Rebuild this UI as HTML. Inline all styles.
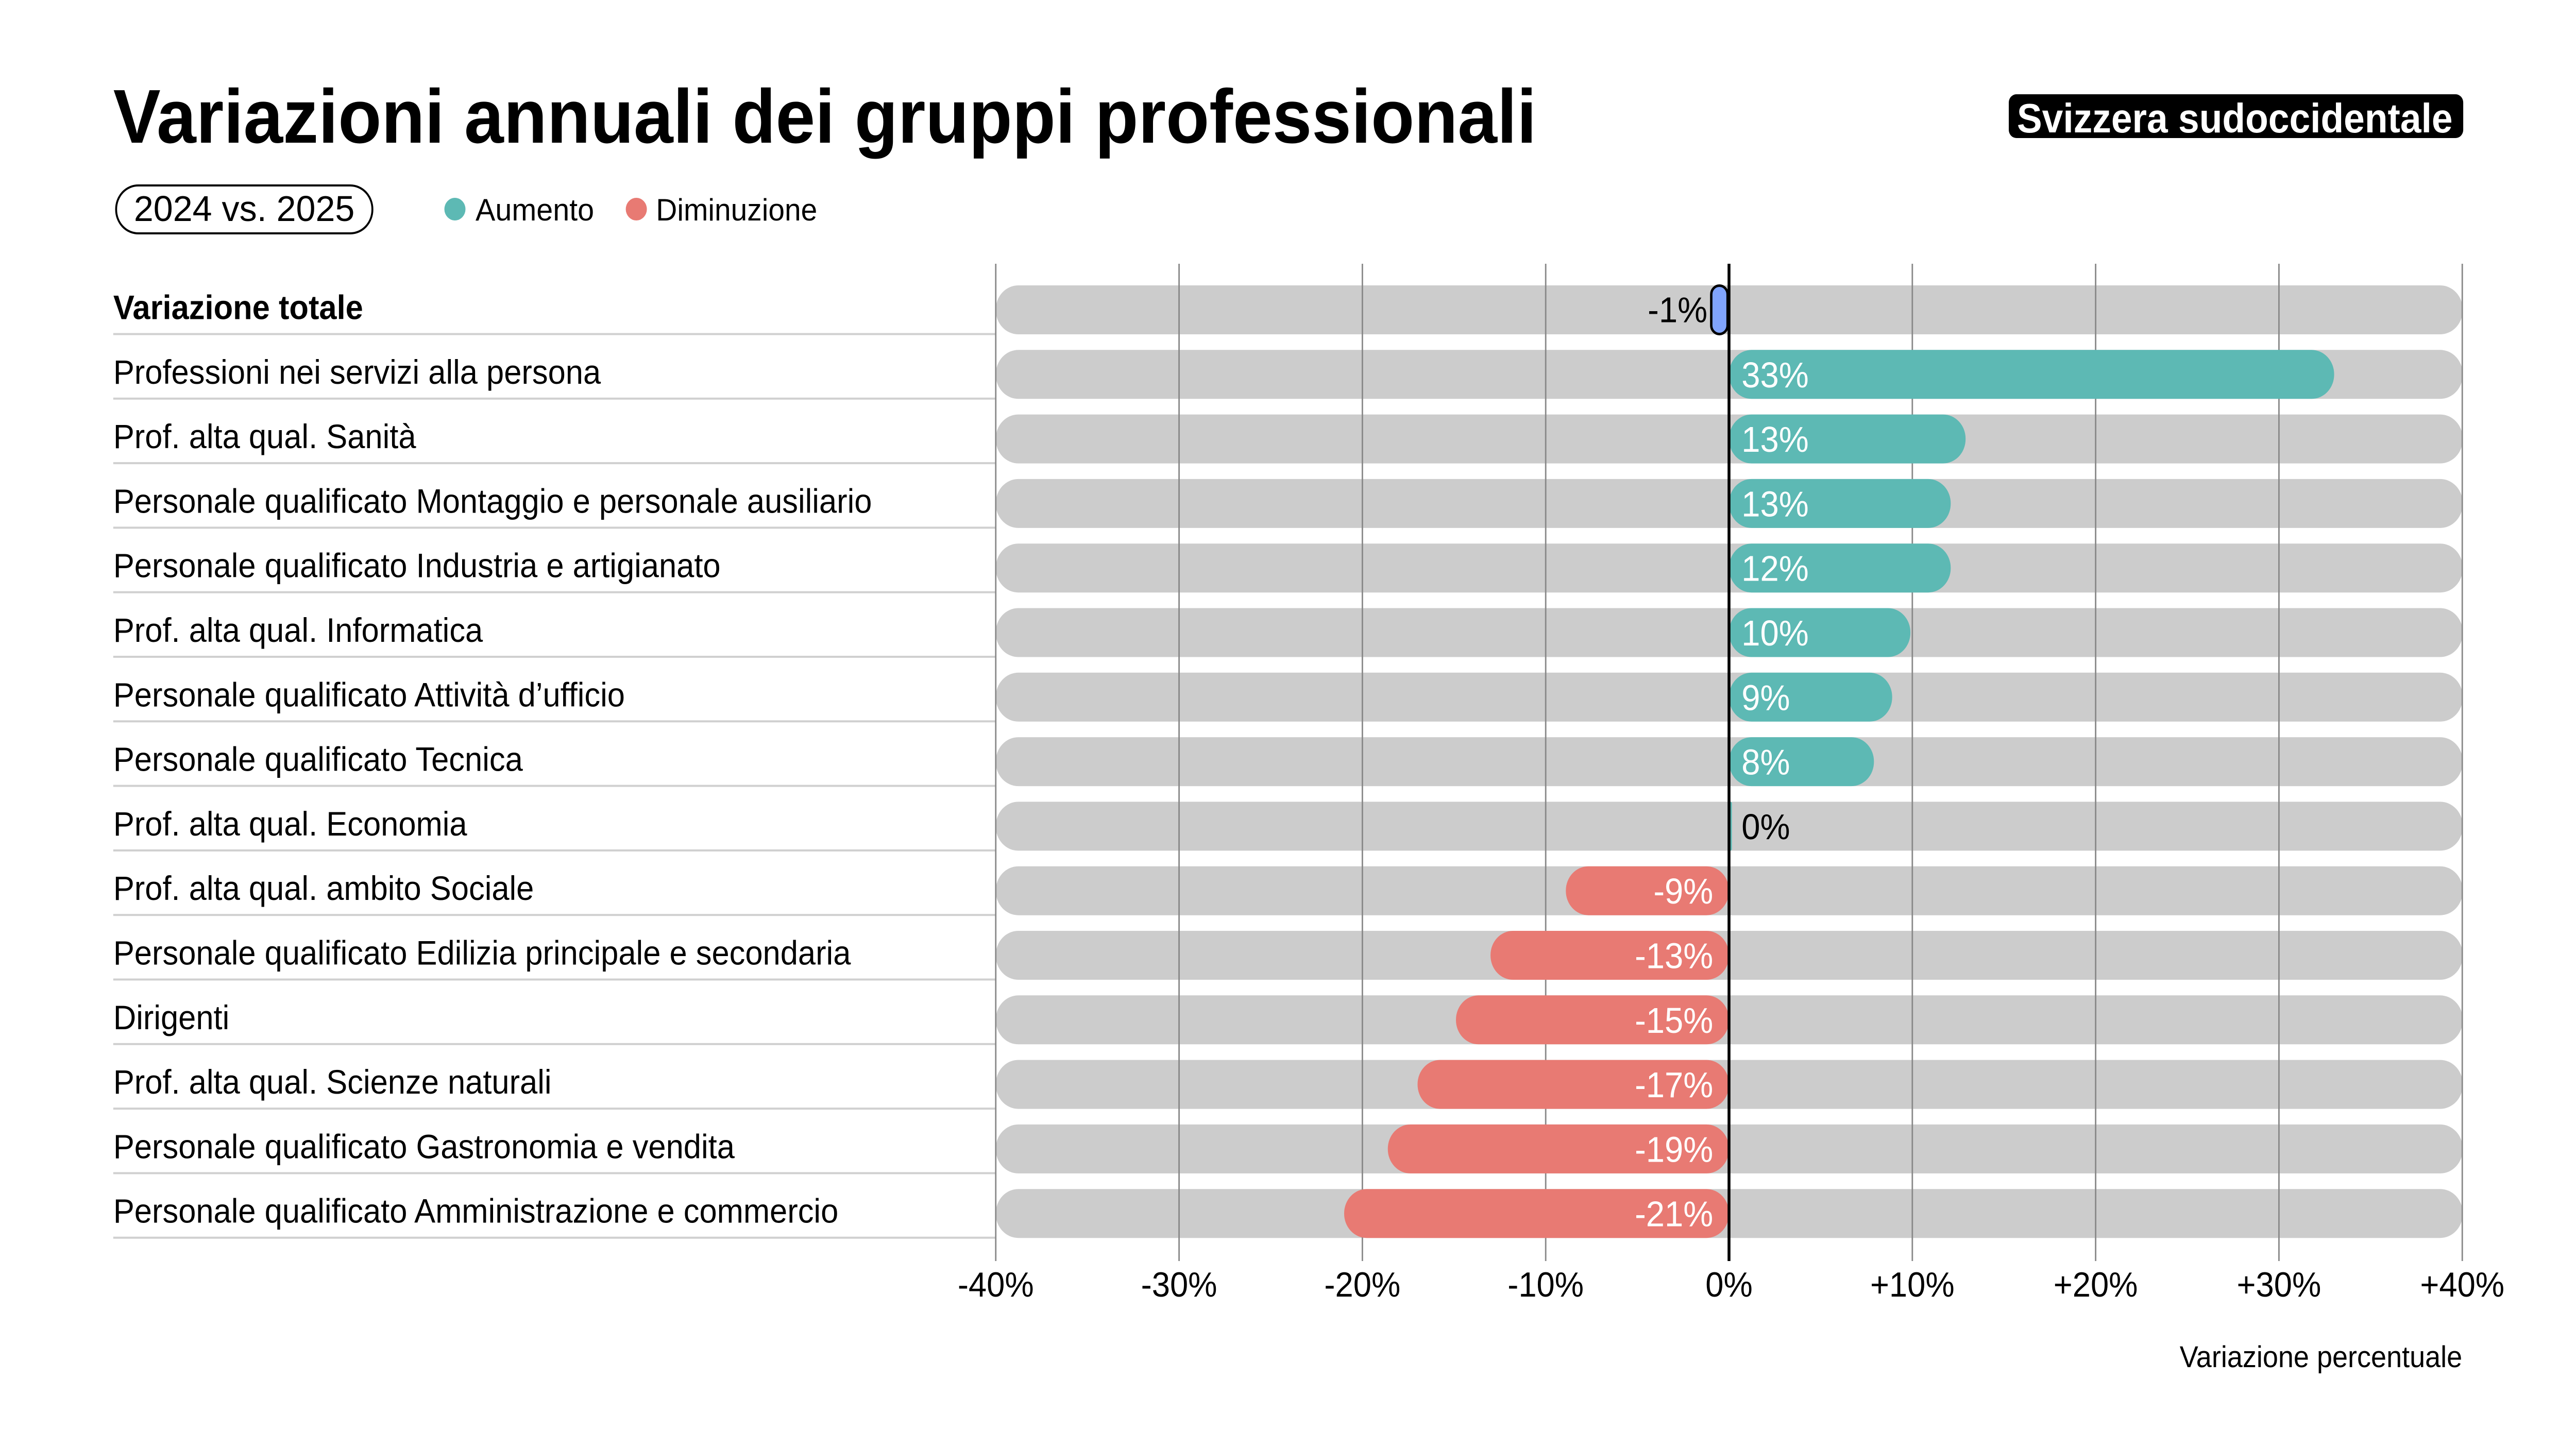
<!DOCTYPE html>
<html><head><meta charset="utf-8"><style>html,body{margin:0;padding:0;background:#fff;width:100%;height:100%;overflow:hidden}svg{display:block;width:100vw;height:100vh}</style></head>
<body>
<svg viewBox="0 0 5368 2776" preserveAspectRatio="none" xmlns="http://www.w3.org/2000/svg" font-family="Liberation Sans, sans-serif">
<rect width="5368" height="2776" fill="#fff"/>
<text x="236" y="277" font-size="148" font-weight="bold" textLength="2966" lengthAdjust="spacingAndGlyphs">Variazioni annuali dei gruppi professionali</text>
<rect x="4186" y="183" width="947" height="85" rx="16" fill="#000"/>
<text x="4203" y="257" font-size="80" font-weight="bold" fill="#fff" textLength="908" lengthAdjust="spacingAndGlyphs">Svizzera sudoccidentale</text>
<rect x="242" y="360" width="534" height="93" rx="46" fill="none" stroke="#000" stroke-width="4"/>
<text x="509" y="429" font-size="70" text-anchor="middle" textLength="460" lengthAdjust="spacingAndGlyphs">2024 vs. 2025</text>
<circle cx="948" cy="406" r="22" fill="#5db9b4"/>
<text x="991" y="428" font-size="60" textLength="247" lengthAdjust="spacingAndGlyphs">Aumento</text>
<circle cx="1326" cy="406" r="22" fill="#e87a73"/>
<text x="1367" y="428" font-size="60" textLength="336" lengthAdjust="spacingAndGlyphs">Diminuzione</text>

<g fill="#d0d0d0">
<rect x="236" y="646.5" width="1840" height="4"/><rect x="236" y="771.8" width="1840" height="4"/><rect x="236" y="897.1" width="1840" height="4"/><rect x="236" y="1022.4" width="1840" height="4"/><rect x="236" y="1147.7" width="1840" height="4"/><rect x="236" y="1273" width="1840" height="4"/><rect x="236" y="1398.3" width="1840" height="4"/><rect x="236" y="1523.6" width="1840" height="4"/><rect x="236" y="1648.9" width="1840" height="4"/><rect x="236" y="1774.2" width="1840" height="4"/><rect x="236" y="1899.5" width="1840" height="4"/><rect x="236" y="2024.8" width="1840" height="4"/><rect x="236" y="2150.1" width="1840" height="4"/><rect x="236" y="2275.4" width="1840" height="4"/><rect x="236" y="2400.7" width="1840" height="4"/>
</g>
<g fill="#cccccc">
<rect x="2075" y="554" width="3057" height="95" rx="47"/><rect x="2075" y="679.3" width="3057" height="95" rx="47"/><rect x="2075" y="804.6" width="3057" height="95" rx="47"/><rect x="2075" y="929.9" width="3057" height="95" rx="47"/><rect x="2075" y="1055.2" width="3057" height="95" rx="47"/><rect x="2075" y="1180.5" width="3057" height="95" rx="47"/><rect x="2075" y="1305.8" width="3057" height="95" rx="47"/><rect x="2075" y="1431.1" width="3057" height="95" rx="47"/><rect x="2075" y="1556.4" width="3057" height="95" rx="47"/><rect x="2075" y="1681.7" width="3057" height="95" rx="47"/><rect x="2075" y="1807" width="3057" height="95" rx="47"/><rect x="2075" y="1932.3" width="3057" height="95" rx="47"/><rect x="2075" y="2057.6" width="3057" height="95" rx="47"/><rect x="2075" y="2182.9" width="3057" height="95" rx="47"/><rect x="2075" y="2308.2" width="3057" height="95" rx="47"/>
</g>
<g stroke="#888" stroke-width="3">
<line x1="2075" y1="512" x2="2075" y2="2448"/><line x1="2457" y1="512" x2="2457" y2="2448"/><line x1="2839" y1="512" x2="2839" y2="2448"/><line x1="3221" y1="512" x2="3221" y2="2448"/><line x1="3985" y1="512" x2="3985" y2="2448"/><line x1="4367" y1="512" x2="4367" y2="2448"/><line x1="4749" y1="512" x2="4749" y2="2448"/><line x1="5131" y1="512" x2="5131" y2="2448"/>
</g>

<g font-size="66">
<text x="236" y="619.5" font-weight="bold">Variazione totale</text>
<text x="236" y="744.8">Professioni nei servizi alla persona</text>
<text x="236" y="870.1">Prof. alta qual. Sanità</text>
<text x="236" y="995.4">Personale qualificato Montaggio e personale ausiliario</text>
<text x="236" y="1120.7">Personale qualificato Industria e artigianato</text>
<text x="236" y="1246">Prof. alta qual. Informatica</text>
<text x="236" y="1371.3">Personale qualificato Attività d’ufficio</text>
<text x="236" y="1496.6">Personale qualificato Tecnica</text>
<text x="236" y="1621.9">Prof. alta qual. Economia</text>
<text x="236" y="1747.2">Prof. alta qual. ambito Sociale</text>
<text x="236" y="1872.5">Personale qualificato Edilizia principale e secondaria</text>
<text x="236" y="1997.8">Dirigenti</text>
<text x="236" y="2123.1">Prof. alta qual. Scienze naturali</text>
<text x="236" y="2248.4">Personale qualificato Gastronomia e vendita</text>
<text x="236" y="2373.7">Personale qualificato Amministrazione e commercio</text>
</g>

<g fill="#5db9b4">
<rect x="3603" y="679.3" width="1261" height="95" rx="47"/>
<rect x="3603" y="804.6" width="493" height="95" rx="47"/>
<rect x="3603" y="929.9" width="462" height="95" rx="47"/>
<rect x="3603" y="1055.2" width="462" height="95" rx="47"/>
<rect x="3603" y="1180.5" width="378" height="95" rx="47"/>
<rect x="3603" y="1305.8" width="340" height="95" rx="47"/>
<rect x="3603" y="1431.1" width="302" height="95" rx="47"/>
<rect x="3603" y="1556.4" width="6" height="95" rx="3"/>
</g>
<g fill="#e87a73">
<rect x="3263" y="1681.7" width="340" height="95" rx="47"/>
<rect x="3106" y="1807" width="497" height="95" rx="47"/>
<rect x="3034" y="1932.3" width="569" height="95" rx="47"/>
<rect x="2954" y="2057.6" width="649" height="95" rx="47"/>
<rect x="2892" y="2182.9" width="711" height="95" rx="47"/>
<rect x="2801" y="2308.2" width="802" height="95" rx="47"/>
</g>
<rect x="3566" y="554.5" width="34" height="94" rx="17" fill="#80a4fd" stroke="#000" stroke-width="5"/>
<text x="3558" y="625.5" font-size="70" text-anchor="end">-1%</text>

<g font-size="70" fill="#fff">
<text x="3629" y="751.8">33%</text>
<text x="3629" y="877.1">13%</text>
<text x="3629" y="1002.4">13%</text>
<text x="3629" y="1127.7">12%</text>
<text x="3629" y="1253">10%</text>
<text x="3629" y="1378.3">9%</text>
<text x="3629" y="1503.6">8%</text>
<text x="3629" y="1628.9" fill="#000">0%</text>
</g>
<g font-size="70" fill="#fff" text-anchor="end">
<text x="3570" y="1754.2">-9%</text>
<text x="3570" y="1879.5">-13%</text>
<text x="3570" y="2004.8">-15%</text>
<text x="3570" y="2130.1">-17%</text>
<text x="3570" y="2255.4">-19%</text>
<text x="3570" y="2380.7">-21%</text>
</g>
<line x1="3603" y1="512" x2="3603" y2="2448" stroke="#000" stroke-width="6"/>

<g font-size="68" text-anchor="middle">
<text x="2075" y="2517">-40%</text><text x="2457" y="2517">-30%</text><text x="2839" y="2517">-20%</text><text x="3221" y="2517">-10%</text><text x="3603" y="2517">0%</text><text x="3985" y="2517">+10%</text><text x="4367" y="2517">+20%</text><text x="4749" y="2517">+30%</text><text x="5131" y="2517">+40%</text>
</g>
<text x="5131" y="2654" font-size="58" text-anchor="end">Variazione percentuale</text>
</svg>
</body></html>
